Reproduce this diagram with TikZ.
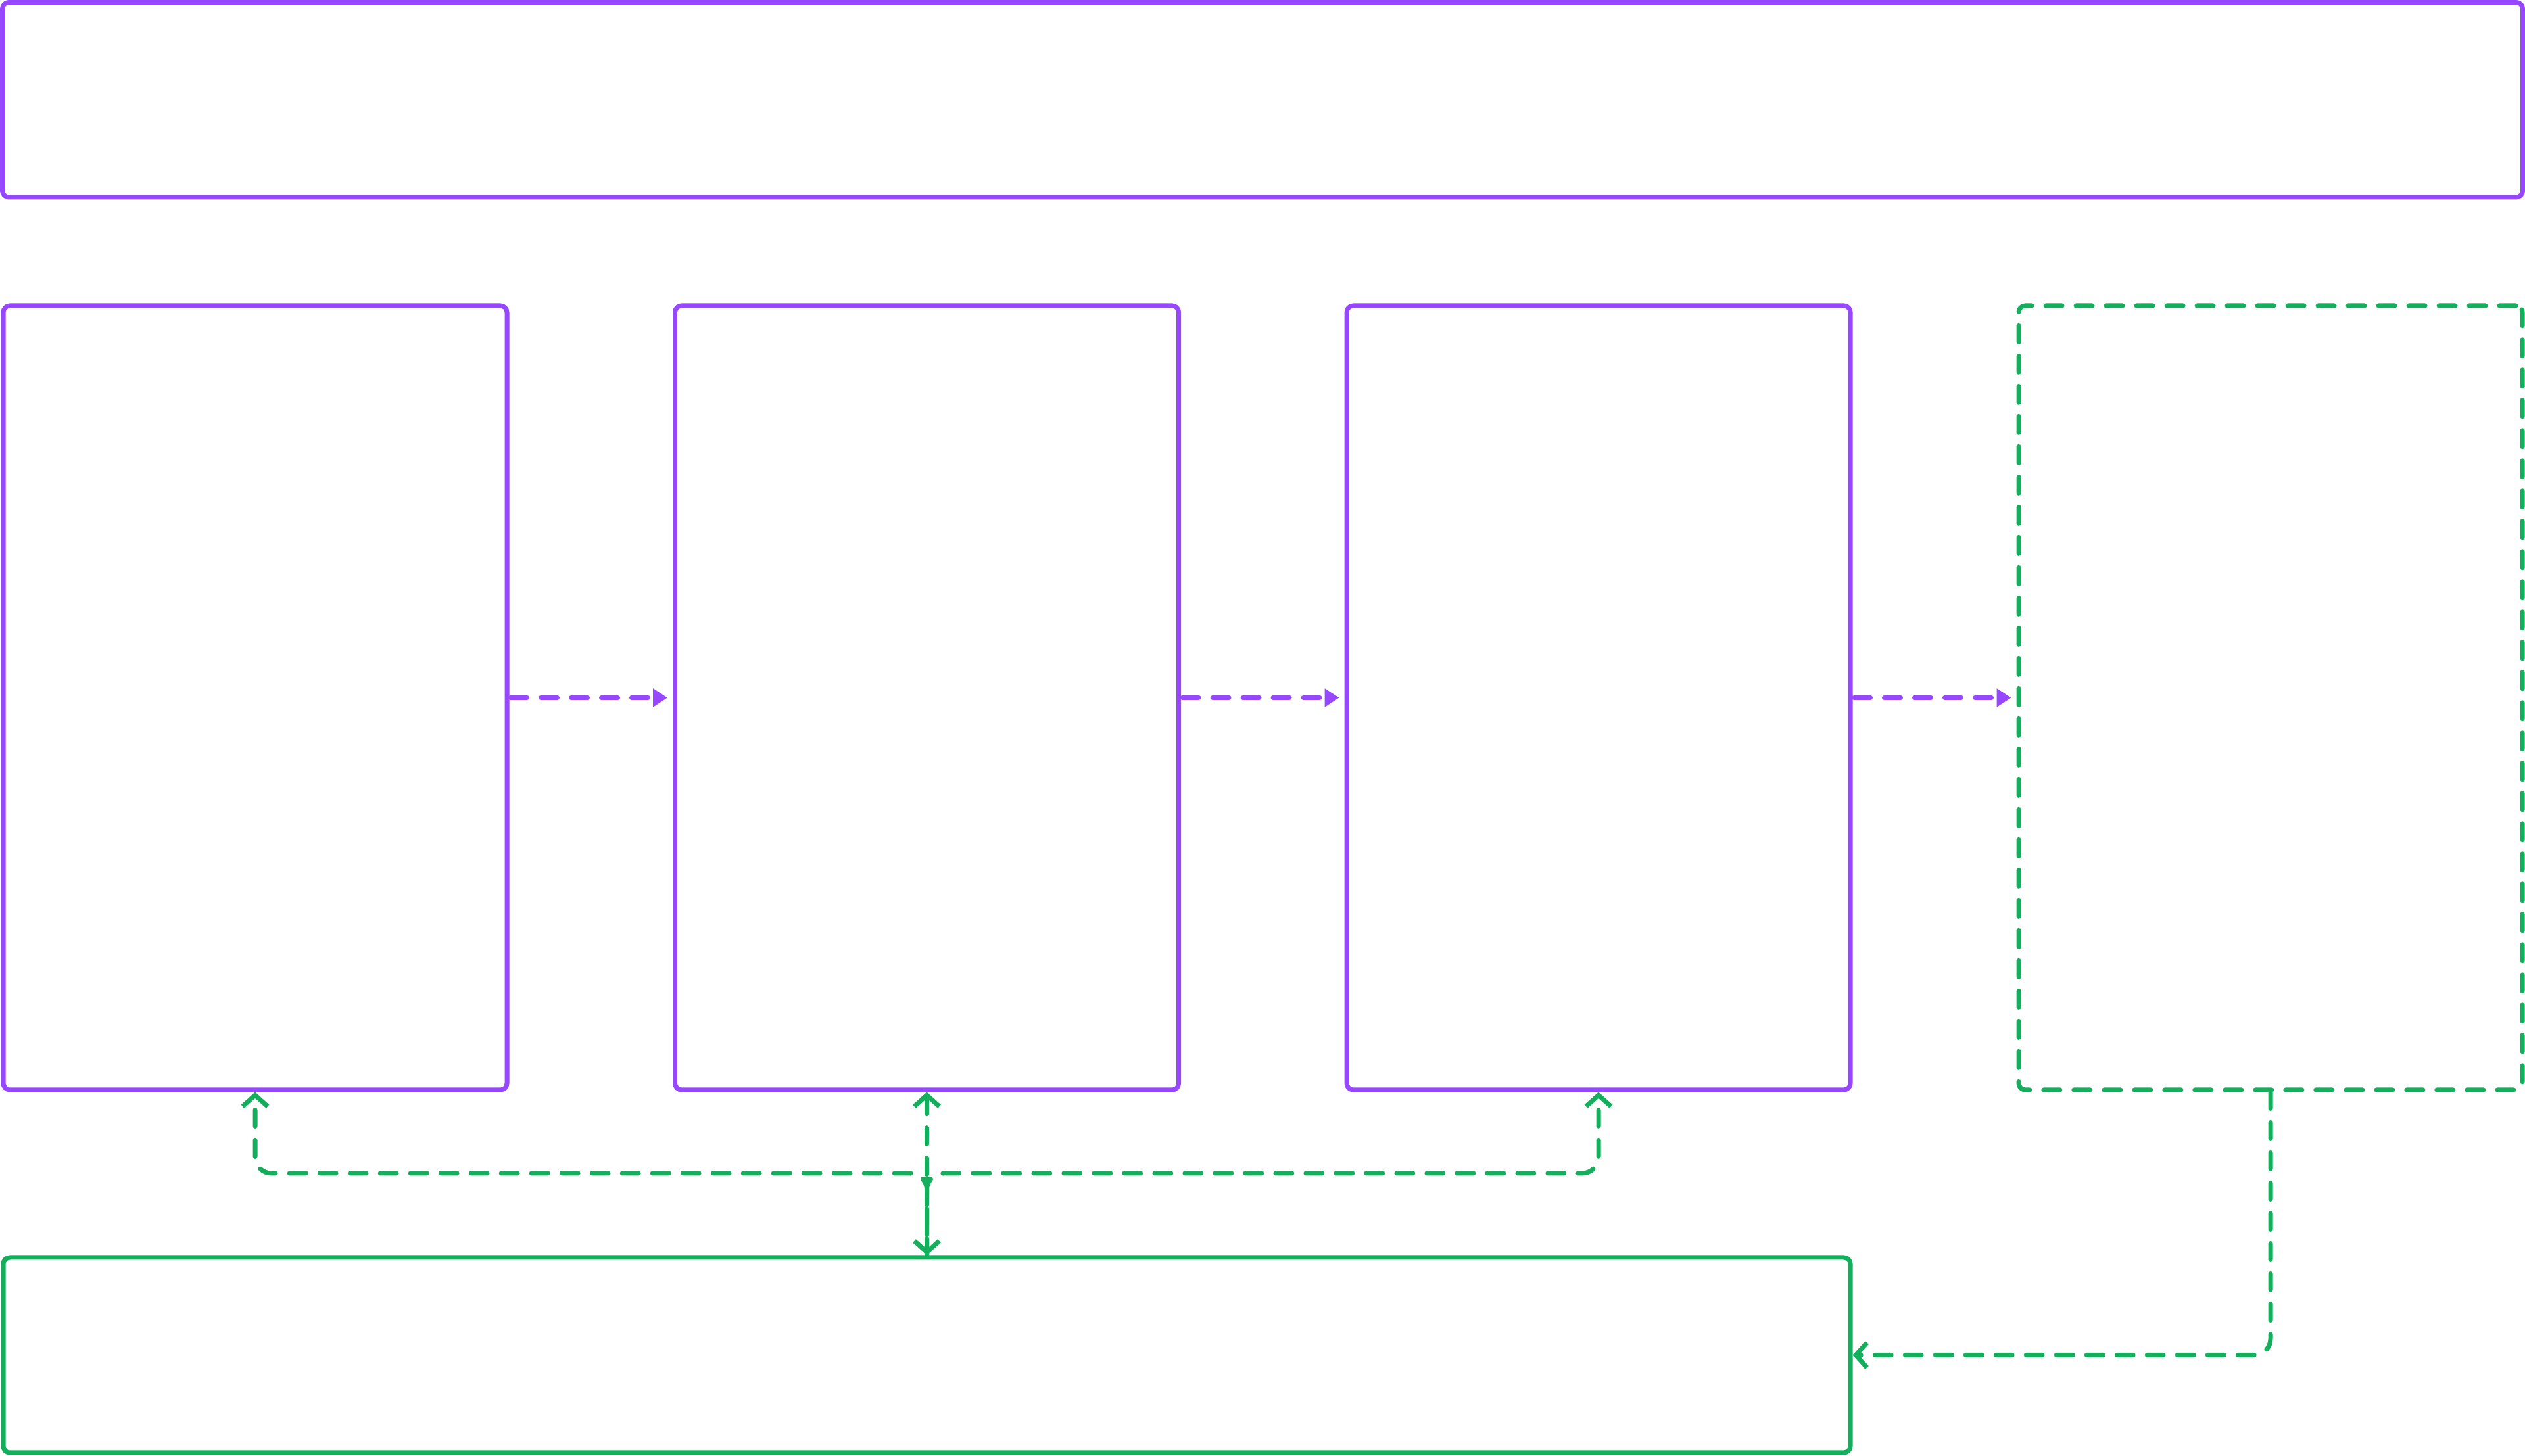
\documentclass[tikz,border=0pt]{standalone}
\usetikzlibrary{arrows.meta,decorations.markings}
\definecolor{figpurple}{HTML}{9747FF}
\definecolor{figgreen}{HTML}{14AE5C}
\begin{document}
\begin{tikzpicture}[
  box/.style={draw=figpurple, line width=0.07cm, rounded corners=0.1cm, inner sep=0pt,
    minimum width=7.66cm, minimum height=11.93cm},
  store/.style={box, draw=figgreen},
  dashline/.style={line cap=round, dash pattern=on 0.25cm off 0.21cm},
  flow/.style={draw=figpurple, line width=0.07cm, dashline,
    -{Triangle[length=0.22cm,width=0.27cm]}, shorten <=0.02cm, shorten >=0.08cm},
  link/.style={draw=figgreen, line width=0.07cm, dashline, rounded corners=0.25cm,
    -{Straight Barb[length=0.17cm,width=0.38cm]}},
  midtip/.style={postaction={decorate}, decoration={markings,
    mark=at position 0.6 with {\arrow[figgreen]{Latex[length=0.2cm,width=0.13cm]}}}}
]
\useasboundingbox (0,0) rectangle (38.4,22.15);
\node[box, minimum width=38.33cm, minimum height=2.965cm] (top) at (19.2,20.6325) {};
\node[box] (b1) at (3.88,11.535) {};
\node[box] (b2) at (14.095,11.535) {};
\node[box] (b3) at (24.31,11.535) {};
\node[store, dashline] (b4) at (34.53,11.535) {};
\node[store, minimum width=28.09cm, minimum height=2.97cm] (bot) at (14.095,1.535) {};
\coordinate (hub) at (14.095,4.30);
% flow between the stages
\draw[flow] (b1.east) -- (b2.west);
\draw[flow] (b2.east) -- (b3.west);
\draw[flow] (b3.east) -- (b4.west);
% links to the bottom box
\draw[link] (bot.north) -- (hub) -| (b1.south);
\draw[link] (bot.north) -- (hub) -| (b3.south);
\draw[link, {Straight Barb[length=0.17cm,width=0.38cm]}-{Straight Barb[length=0.17cm,width=0.38cm]}, midtip] (b2.south) -- (bot.north);
\draw[link] (b4.south) |- (bot.east);
\end{tikzpicture}
\end{document}
